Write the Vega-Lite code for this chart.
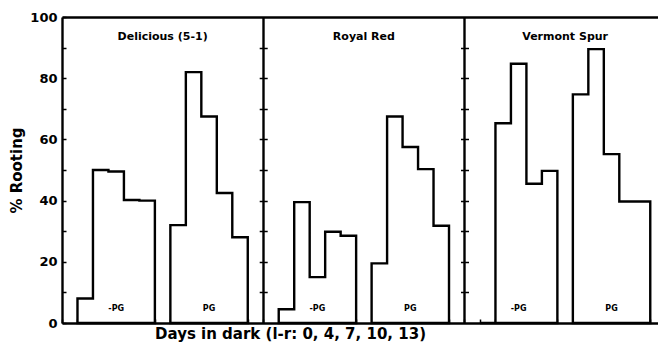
{
  "$schema": "https://vega.github.io/schema/vega-lite/v6.json",
  "width": 596,
  "height": 306,
  "autosize": {"type": "none"},
  "padding": {"left": 62, "top": 17, "right": 0, "bottom": 26},
  "background": "white",
  "config": {
    "view": {"stroke": null},
    "font": "DejaVu Sans",
    "axis": {"domainColor": "black", "tickColor": "black", "labelColor": "black", "titleColor": "black"}
  },
  "data": {
    "values": [
      {"cultivar": "Delicious (5-1)", "treatment": "-PG", "day": null, "edge": 1, "pct": 0},
      {"cultivar": "Delicious (5-1)", "treatment": "-PG", "day": 0, "edge": 2, "pct": 8},
      {"cultivar": "Delicious (5-1)", "treatment": "-PG", "day": 4, "edge": 3, "pct": 50},
      {"cultivar": "Delicious (5-1)", "treatment": "-PG", "day": 7, "edge": 4, "pct": 49.5},
      {"cultivar": "Delicious (5-1)", "treatment": "-PG", "day": 10, "edge": 5, "pct": 40.2},
      {"cultivar": "Delicious (5-1)", "treatment": "-PG", "day": 13, "edge": 6, "pct": 40},
      {"cultivar": "Delicious (5-1)", "treatment": "PG", "day": null, "edge": 7, "pct": 0},
      {"cultivar": "Delicious (5-1)", "treatment": "PG", "day": 0, "edge": 8, "pct": 32},
      {"cultivar": "Delicious (5-1)", "treatment": "PG", "day": 4, "edge": 9, "pct": 82},
      {"cultivar": "Delicious (5-1)", "treatment": "PG", "day": 7, "edge": 10, "pct": 67.5},
      {"cultivar": "Delicious (5-1)", "treatment": "PG", "day": 10, "edge": 11, "pct": 42.5},
      {"cultivar": "Delicious (5-1)", "treatment": "PG", "day": 13, "edge": 12, "pct": 28},
      {"cultivar": "Royal Red", "treatment": "-PG", "day": null, "edge": 14, "pct": 0},
      {"cultivar": "Royal Red", "treatment": "-PG", "day": 0, "edge": 15, "pct": 4.5},
      {"cultivar": "Royal Red", "treatment": "-PG", "day": 4, "edge": 16, "pct": 39.5},
      {"cultivar": "Royal Red", "treatment": "-PG", "day": 7, "edge": 17, "pct": 15},
      {"cultivar": "Royal Red", "treatment": "-PG", "day": 10, "edge": 18, "pct": 29.8},
      {"cultivar": "Royal Red", "treatment": "-PG", "day": 13, "edge": 19, "pct": 28.5},
      {"cultivar": "Royal Red", "treatment": "PG", "day": null, "edge": 20, "pct": 0},
      {"cultivar": "Royal Red", "treatment": "PG", "day": 0, "edge": 21, "pct": 19.5},
      {"cultivar": "Royal Red", "treatment": "PG", "day": 4, "edge": 22, "pct": 67.5},
      {"cultivar": "Royal Red", "treatment": "PG", "day": 7, "edge": 23, "pct": 57.5},
      {"cultivar": "Royal Red", "treatment": "PG", "day": 10, "edge": 24, "pct": 50.3},
      {"cultivar": "Royal Red", "treatment": "PG", "day": 13, "edge": 25, "pct": 31.8},
      {"cultivar": "Vermont Spur", "treatment": "-PG", "day": null, "edge": 27, "pct": 0},
      {"cultivar": "Vermont Spur", "treatment": "-PG", "day": 0, "edge": 28, "pct": 0},
      {"cultivar": "Vermont Spur", "treatment": "-PG", "day": 4, "edge": 29, "pct": 65.3},
      {"cultivar": "Vermont Spur", "treatment": "-PG", "day": 7, "edge": 30, "pct": 84.7},
      {"cultivar": "Vermont Spur", "treatment": "-PG", "day": 10, "edge": 31, "pct": 45.5},
      {"cultivar": "Vermont Spur", "treatment": "-PG", "day": 13, "edge": 32, "pct": 49.7},
      {"cultivar": "Vermont Spur", "treatment": "PG", "day": null, "edge": 33, "pct": 0},
      {"cultivar": "Vermont Spur", "treatment": "PG", "day": 0, "edge": 34, "pct": 74.7},
      {"cultivar": "Vermont Spur", "treatment": "PG", "day": 4, "edge": 35, "pct": 89.5},
      {"cultivar": "Vermont Spur", "treatment": "PG", "day": 7, "edge": 36, "pct": 55.2},
      {"cultivar": "Vermont Spur", "treatment": "PG", "day": 10, "edge": 37, "pct": 39.7},
      {"cultivar": "Vermont Spur", "treatment": "PG", "day": 13, "edge": 38, "pct": 39.7}
    ]
  },
  "resolve": {"axis": {"x": "independent", "y": "independent"}},
  "layer": [
    {
      "mark": {"type": "area", "interpolate": "step-before", "fill": "white", "stroke": "black", "strokeWidth": 2.4, "strokeJoin": "miter"},
      "encoding": {
        "x": {
          "field": "edge", "type": "quantitative",
          "scale": {"domain": [0, 38.5], "nice": false, "zero": false},
          "axis": {
            "orient": "bottom",
            "values": [0,1,2,3,4,5,6,7,8,9,10,11,12,13,14,15,16,17,18,19,20,21,22,23,24,25,26,27,28,29,30,31,32,33,34,35,36,37,38],
            "tickSize": -4, "tickWidth": 1.5, "labels": false, "domainWidth": 2.4, "grid": false,
            "title": "Days in dark (l-r: 0, 4, 7, 10, 13)",
            "titleFont": "DejaVu Sans", "titleFontWeight": "bold", "titleFontSize": 15,
            "titleX": 228, "titleY": 15, "titleBaseline": "alphabetic", "titleAlign": "center"
          }
        },
        "y": {
          "field": "pct", "type": "quantitative", "stack": null,
          "scale": {"domain": [0, 100], "nice": false},
          "axis": {
            "orient": "left",
            "values": [0,10,20,30,40,50,60,70,80,90,100],
            "labelExpr": "datum.value % 20 === 0 ? datum.label : ''",
            "tickSize": -4, "tickWidth": 1.5, "domainWidth": 2.4, "grid": false,
            "labelFont": "DejaVu Sans", "labelFontWeight": "bold", "labelFontSize": 13, "labelPadding": 9,
            "title": "% Rooting",
            "titleFont": "DejaVu Sans", "titleFontWeight": "bold", "titleFontSize": 15,
            "titleX": -41, "titleY": 153, "titleAngle": -90, "titleBaseline": "alphabetic", "titleAlign": "center"
          }
        },
        "detail": [{"field": "cultivar"}, {"field": "treatment"}]
      }
    },
    {
      "mark": {"type": "text", "font": "DejaVu Sans", "fontWeight": "bold", "fontSize": 11, "baseline": "alphabetic", "align": "center", "color": "black"},
      "encoding": {
        "x": {
          "aggregate": "mean", "field": "edge", "type": "quantitative",
          "axis": {
            "orient": "top", "domain": true, "domainWidth": 2.4, "ticks": false, "labels": false,
            "grid": true, "values": [13, 26], "gridColor": "black", "gridWidth": 2.4, "gridOpacity": 1, "title": null
          }
        },
        "y": {"datum": 92.5, "type": "quantitative", "axis": null},
        "text": {"field": "cultivar"}
      }
    },
    {
      "mark": {"type": "text", "font": "DejaVu Sans", "fontWeight": "bold", "fontSize": 8, "baseline": "alphabetic", "align": "center", "color": "black"},
      "encoding": {
        "x": {"aggregate": "mean", "field": "edge", "type": "quantitative", "axis": null},
        "y": {"datum": 4, "type": "quantitative", "axis": null},
        "text": {"field": "treatment"},
        "detail": {"field": "cultivar"}
      }
    },
    {
      "mark": {"type": "point", "opacity": 0},
      "encoding": {
        "x": {"field": "edge", "type": "quantitative", "axis": null},
        "y": {
          "field": "pct", "type": "quantitative",
          "axis": {
            "orient": "right", "offset": -398.8, "values": [10,20,30,40,50,60,70,80,90],
            "domain": false, "labels": false, "tickSize": 8, "tickWidth": 1.5, "tickColor": "black", "grid": false, "title": null
          }
        }
      }
    },
    {
      "mark": {"type": "point", "opacity": 0},
      "encoding": {
        "x": {"field": "edge", "type": "quantitative", "axis": null},
        "y": {
          "field": "pct", "type": "quantitative",
          "axis": {
            "orient": "left", "offset": -406.5, "values": [10,20,30,40,50,60,70,80,90],
            "domain": false, "labels": false, "tickSize": 8, "tickWidth": 1.5, "tickColor": "black", "grid": false, "title": null
          }
        }
      }
    }
  ]
}
